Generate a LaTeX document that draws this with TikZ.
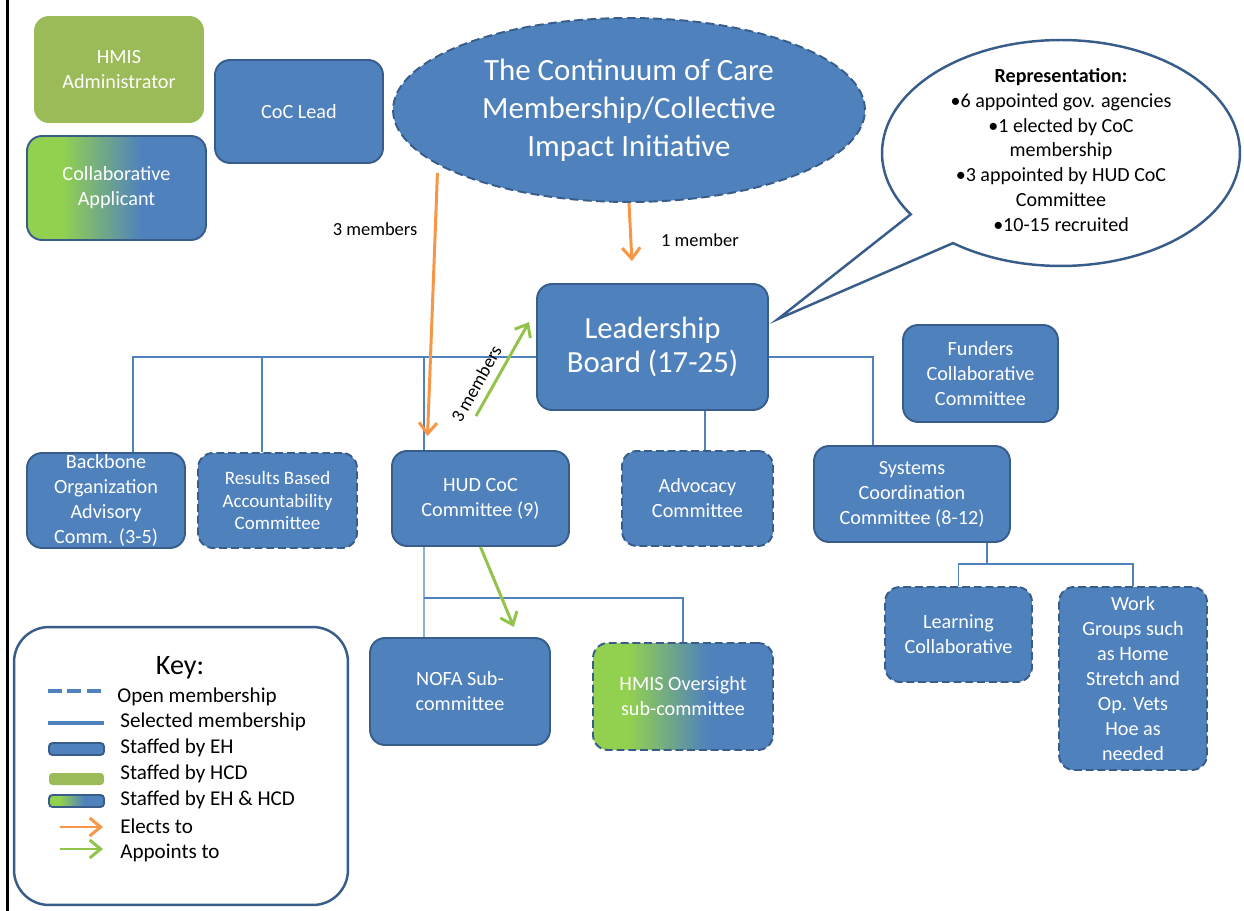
\documentclass[tikz,border=0pt]{standalone}
\usepackage{fontspec}
\setmainfont{Carlito}
\usetikzlibrary{positioning, arrows.meta, shapes.geometric, shapes.callouts}
\definecolor{ehblue}{RGB}{79,129,189}
\definecolor{ehdark}{RGB}{56,93,138}
\definecolor{hcdgreen}{RGB}{155,187,89}
\definecolor{mixgreen}{RGB}{146,208,80}
\definecolor{electorange}{RGB}{247,150,70}
\definecolor{appointgreen}{RGB}{146,196,76}
\pgfdeclarehorizontalshading{ehhcd}{100bp}{color(0bp)=(mixgreen); color(35bp)=(mixgreen); color(57bp)=(ehblue); color(100bp)=(ehblue)}

\begin{document}
\begin{tikzpicture}[x=0.02cm, y=-0.02cm,
  boxbase/.style={rounded corners=0.3cm, draw=ehdark, line width=1.1pt, text=white,
    align=center, inner sep=1pt, font=\fontsize{11.5}{14.2}\selectfont},
  ehbox/.style={boxbase, fill=ehblue},
  openbox/.style={ehbox, dash pattern=on 4.5pt off 2.2pt},
  mixbox/.style={boxbase, shade, shading=ehhcd},
  openmix/.style={mixbox, dash pattern=on 4.5pt off 2.2pt},
  hcdbox/.style={boxbase, draw=none, fill=hcdgreen},
  bus/.style={draw=ehblue, line width=0.8pt},
  elects/.style={draw=electorange, line width=1.7pt, -{Straight Barb[length=2.2mm, width=3.6mm]}},
  appoints/.style={elects, draw=appointgreen},
  tag/.style={font=\fontsize{10.5}{12}\selectfont, text=black},
  keyline/.style={font=\fontsize{12}{14}\selectfont, anchor=west, inner sep=0pt}]
\useasboundingbox (0,0) rectangle (1244,911);
\draw[black, line width=1.2pt] (7.5,0) -- (7.5,911);

% top row
\node[hcdbox, minimum width=3.4cm, minimum height=2.14cm] (hmisadmin) at (119,69.5) {HMIS\\Administrator};
\node[mixbox, minimum width=3.58cm, minimum height=2.08cm] (collab) at (116.5,188) {Collaborative\\Applicant};
\node[ehbox, minimum width=3.36cm, minimum height=2.06cm] (coclead) at (299,111.5) {CoC Lead};

\node[ellipse, fill=ehblue, draw=ehdark, line width=1.1pt, dash pattern=on 5pt off 2.5pt,
  minimum width=9.44cm, minimum height=3.68cm, inner sep=0pt] (coc) at (629,110) {};
\node[text=white, align=center, font=\fontsize{17.6}{21.5}\selectfont] (coctext) at (coc.center)
  {The Continuum of Care\\Membership/Collective\\Impact Initiative};

\node[ehbox, minimum width=4.62cm, minimum height=2.52cm, font=\fontsize{17.5}{19.8}\selectfont]
  (board) at (652.5,347) {Leadership\\Board (17-25)};

\coordinate (bubbletip) at (778,319);
\node[ellipse callout, callout absolute pointer={(bubbletip)}, callout pointer arc=20,
  fill=white, draw=ehdark, line width=1.4pt, minimum width=7.16cm, minimum height=4.52cm,
  inner sep=0pt] (reprbubble) at (1061,153) {};
\node[align=center, font=\fontsize{11.4}{14.2}\selectfont] (reprtext) at (1061,150)
  {\textbf{Representation:}\\•6 appointed gov. agencies\\•1 elected by CoC\\membership\\
   •3 appointed by HUD CoC\\Committee\\•10-15 recruited};

\node[ehbox, minimum width=3.1cm, minimum height=1.94cm] (funders) at (980.5,373.5) {Funders\\Collaborative\\Committee};

% committees
\node[ehbox, minimum width=3.16cm, minimum height=1.9cm, inner ysep=0pt] (backbone) at (106,500.5)
  {Backbone\\Organization\\Advisory\\Comm. (3-5)};
\node[openbox, minimum width=3.18cm, minimum height=1.9cm, font=\fontsize{10.8}{13}\selectfont] (rba) at (277.5,500.5)
  {Results Based\\Accountability\\Committee};
\node[ehbox, minimum width=3.54cm, minimum height=1.9cm] (hudcoc) at (480.5,498.5) {HUD CoC\\Committee (9)};
\node[openbox, minimum width=3.02cm, minimum height=1.9cm] (advocacy) at (697.5,498.5) {Advocacy\\Committee};
\node[ehbox, minimum width=3.92cm, minimum height=1.92cm] (systems) at (912,494)
  {Systems\\Coordination\\Committee (8-12)};

\node[ehbox, minimum width=3.6cm, minimum height=2.14cm] (nofa) at (460,691.5) {NOFA Sub-\\committee};
\node[openmix, minimum width=3.6cm, minimum height=2.14cm] (hmisover) at (683,696.5) {HMIS Oversight\\sub-committee};
\node[openbox, minimum width=2.94cm, minimum height=1.9cm] (learning) at (958.5,634.5) {Learning\\Collaborative};
\node[openbox, minimum width=2.96cm, minimum height=3.66cm] (workgrp) at (1133,678.5)
  {Work\\Groups such\\as Home\\Stretch and\\Op. Vets\\Hoe as\\needed};

% membership lines
\coordinate (busy) at (0,357);
\coordinate (subbus) at (0,598);
\coordinate (sysbus) at (0,564);
\coordinate (bbdrop) at ([xshift=0.54cm]backbone.north);
\coordinate (rbadrop) at ([xshift=-0.31cm]rba.north);
\coordinate (huddrop) at ([xshift=-1.13cm]hudcoc.north);
\coordinate (sysdrop) at ([xshift=-0.78cm]systems.north);
\coordinate (advdrop) at ([xshift=0.15cm]advocacy.north);
\coordinate (hudout) at ([xshift=-1.13cm]hudcoc.south);
\coordinate (nofain) at ([xshift=-0.72cm]nofa.north);
\coordinate (sysout) at ([xshift=1.5cm]systems.south);
\draw[bus] (bbdrop) |- (board.west |- busy);
\draw[bus] (rbadrop) -- (rbadrop |- busy);
\draw[bus] (huddrop) -- (huddrop |- busy);
\draw[bus] (board.east |- busy) -| (sysdrop);
\draw[bus] (advdrop) -- (advdrop |- board.south);
\draw[bus] (hudout) -- (nofain);
\draw[bus] (hudout |- subbus) -| (hmisover.north);
\draw[bus] (sysout) -- (sysout |- sysbus);
\draw[bus] (learning.north) |- (workgrp.north |- sysbus) -- (workgrp.north);

% elects / appoints
\draw[elects, shorten <=0.16cm, shorten >=0.28cm] (coc.196) -- ([xshift=-1.07cm]hudcoc.north);
\draw[elects, shorten >=0.44cm] (coc.south) -- ([xshift=-0.39cm]board.north);
\draw[appoints] ([xshift=-0.09cm, yshift=0.68cm]hudcoc.north) --
  node[tag, pos=0.26, above=1pt, sloped] (lbl3up) {3 members} ([xshift=-0.14cm, yshift=0.5cm]board.west);
\draw[appoints, shorten >=0.22cm] (hudcoc.south) -- ([xshift=1.16cm]nofa.north);
\node[tag] (lbl3down) at (375,229) {3 members};
\node[tag, anchor=west] (lbl1) at (655,240) {1 member};

% key
\node[draw=ehdark, line width=1.4pt, fill=white, rounded corners=0.7cm,
  minimum width=6.68cm, minimum height=5.56cm] (keyframe) at (181,766) {};
\node[font=\fontsize{16}{18}\selectfont] (keytitle) at (180,668) {Key:};
\draw[ehblue, line width=2.8pt, dash pattern=on 8pt off 3pt] (48,691) -- (104,691);
\draw[ehblue, line width=2.8pt] (48,723) -- (104,723);
\draw[fill=ehblue, draw=ehdark, line width=1.1pt, rounded corners=2pt] (49,743) rectangle (104,755);
\fill[hcdgreen, rounded corners=2pt] (49,773) rectangle (104,785);
\draw[draw=ehdark, line width=1.1pt, rounded corners=2pt, shade, shading=ehhcd] (49,795) rectangle (104,807);
\draw[elects] (60,827) -- (103,827);
\draw[appoints] (60,849) -- (103,849);
\node[keyline] (keyopen) at (117,697) {Open membership};
\node[keyline] (keysel) at (120,722) {Selected membership};
\node[keyline] (keyeh) at (120,748) {Staffed by EH};
\node[keyline] (keyhcd) at (120,774) {Staffed by HCD};
\node[keyline] (keyboth) at (120,800) {Staffed by EH \& HCD};
\node[keyline] (keyelect) at (120,826) {Elects to};
\node[keyline] (keyappt) at (120,853) {Appoints to};
\end{tikzpicture}
\end{document}
